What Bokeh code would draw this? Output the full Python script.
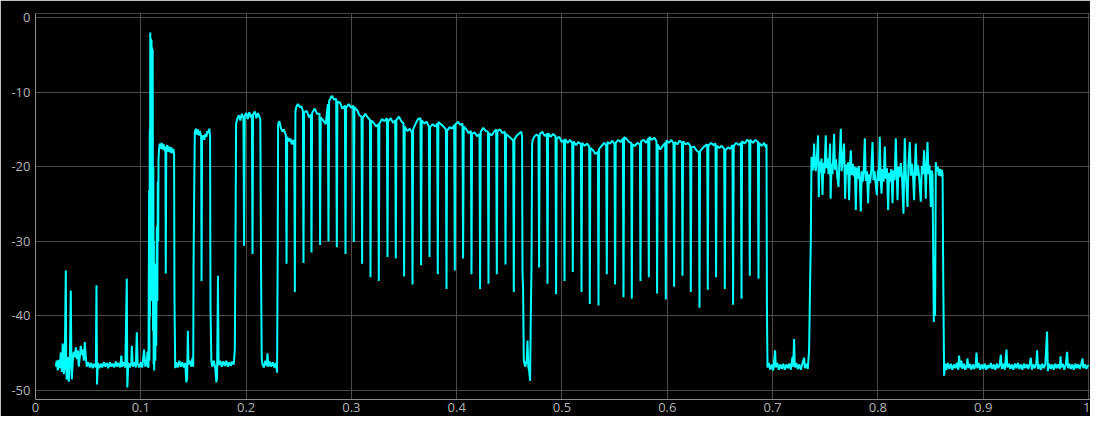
from bokeh.plotting import figure
from bokeh.models import Range1d, FixedTicker
from bokeh.embed import file_html
from bokeh.resources import INLINE

# ---------------- data ----------------
x_ticks = [0, 0.1, 0.2, 0.3, 0.4, 0.5, 0.6, 0.7, 0.8, 0.9, 1.0]
x_tick_labels = ["0", "0.1", "0.2", "0.3", "0.4", "0.5", "0.6", "0.7", "0.8", "0.9", "1"]
y_ticks = [0, -10, -20, -30, -40, -50]
y_tick_labels = ["0", "-10", "-20", "-30", "-40", "-50"]

# noisy start
t_start = [.0193, .0202, .0212, .0221, .0231, .0240, .0250, .0259, .0269, .0278, .0288, .0292, .0297,
           .0307, .0316, .0326, .0335, .0340, .0345, .0354, .0364, .0373, .0383, .0392, .0402, .0411,
           .0421, .0430, .0440, .0449, .0459, .0468, .0478, .0487]
v_start = [-46.8, -46.0, -47.3, -45.9, -47.0, -44.9, -47.5, -43.7, -47.8, -46.2, -33.9, -47.0, -48.5,
           -45.5, -48.8, -46.0, -36.6, -44.5, -48.5, -46.0, -44.8, -45.5, -44.2, -45.8, -44.6, -46.8,
           -45.5, -44.0, -45.2, -44.5, -46.0, -43.5, -45.5, -46.8]

# low floor before the burst
t_floor1 = [.0501, .0516, .0530, .0544, .0558, .0573, .0579, .0584, .0592, .0606, .0620, .0634, .0649,
            .0663, .0677, .0691, .0706, .0720, .0734, .0748, .0763, .0777, .0791, .0805, .0815, .0824,
            .0839, .0853, .0867, .0872, .0881, .0896, .0910, .0915, .0924, .0938, .0953, .0962, .0970,
            .0986, .1000, .1014, .1031, .1043, .1057, .1064, .1069]
v_floor1 = [-46.2, -46.9, -46.3, -47.0, -46.4, -46.9, -35.9, -49.2, -46.3, -47.0, -46.4, -46.9, -46.2,
            -46.8, -46.3, -47.0, -46.2, -46.8, -46.4, -46.9, -46.1, -46.8, -46.3, -46.9, -45.3, -46.8,
            -46.2, -46.9, -35.0, -49.6, -46.3, -46.9, -46.2, -44.0, -46.8, -46.2, -46.9, -42.2, -46.4,
            -46.9, -46.2, -46.9, -44.5, -46.8, -46.2, -44.8, -46.9]

# tall burst near 0.11
t_burst = [.1073, .1079, .1082, .1085, .1087, .1090, .1093, .1096, .1099, .1102, .1104, .1107, .1110,
           .1113, .1116, .1119, .1122, .1124, .1127, .1133, .1138, .1142, .1147, .1152, .1157, .1161,
           .1166, .1168, .1174]
v_burst = [-46.8, -23.2, -46.0, -15.0, -40.0, -2.0, -34.0, -2.8, -28.0, -3.0, -38.0, -4.0, -24.0,
           -4.3, -42.0, -20.0, -46.5, -30.0, -47.3, -40.0, -46.0, -33.0, -44.0, -28.0, -38.0, -22.0,
           -30.0, -19.1, -17.5]

# first plateau (-17)
t_pl1 = [.1180, .1190, .1199, .1209, .1218, .1228, .1234, .1237, .1242, .1252, .1261, .1271, .1280,
         .1290, .1299, .1309, .1316, .1320, .1327]
v_pl1 = [-16.9, -17.6, -16.8, -17.7, -17.0, -17.9, -17.3, -34.3, -17.6, -17.1, -18.0, -17.3, -18.1,
         -17.4, -18.2, -17.6, -18.3, -38.0, -47.0]

t_floor2 = [.1337, .1351, .1366, .1380, .1394, .1408, .1423, .1432, .1440, .1447, .1453, .1465, .1480,
            .1491, .1498]
v_floor2 = [-46.2, -46.9, -46.0, -46.8, -46.2, -46.9, -46.3, -48.9, -48.4, -42.0, -46.5, -46.0, -46.8,
            -45.6, -46.8]

# second plateau (-15.5)
t_pl2 = [.1501, .1506, .1513, .1522, .1532, .1542, .1551, .1561, .1573, .1577, .1582, .1594, .1603,
         .1613, .1623, .1632, .1642, .1651, .1658, .1662, .1670]
v_pl2 = [-33.0, -25.0, -15.4, -14.9, -15.7, -15.0, -15.8, -15.2, -15.9, -35.3, -16.2, -15.8, -16.4,
         -15.6, -16.0, -15.2, -15.5, -14.9, -16.0, -38.8, -46.0]

t_floor3 = [.1678, .1693, .1707, .1717, .1724, .1733, .1739, .1755, .1769, .1783, .1798, .1812, .1827,
            .1840, .1855, .1869, .1883, .1893]
v_floor3 = [-46.8, -46.0, -46.9, -48.9, -48.3, -34.6, -46.6, -46.0, -46.8, -46.1, -46.7, -46.0, -46.8,
            -46.2, -46.7, -46.1, -46.5, -44.5]

# third plateau (-13)
t_pl3 = [.1899, .1905, .1916, .1930, .1945, .1959, .1975, .1981, .1987, .2002, .2016, .2030, .2045,
         .2055, .2061, .2066, .2083, .2097, .2111, .2126, .2135, .2142, .2148, .2154]
v_pl3 = [-30.8, -14.2, -13.6, -13.1, -13.8, -12.9, -13.5, -30.6, -13.2, -12.8, -13.6, -12.7, -13.4,
         -13.0, -31.7, -13.0, -12.6, -13.5, -12.8, -13.3, -13.6, -33.6, -45.5, -46.4]

t_floor4 = [.2168, .2183, .2197, .2203, .2211, .2225, .2239, .2254, .2268, .2283, .2294, .2300]
v_floor4 = [-46.9, -46.0, -46.7, -45.0, -46.8, -46.1, -46.8, -46.2, -46.9, -46.3, -47.6, -31.4]

t_pl4 = [.2304, .2316, .2330, .2344, .2358, .2378, .2384, .2390, .2406, .2420, .2434, .2449, .2458,
         .2463]
v_pl4 = [-14.3, -13.9, -14.8, -15.3, -15.0, -15.8, -33.0, -16.0, -16.6, -16.2, -17.0, -16.4, -17.1,
         -36.8]

# long pulsed section 0.25 - 0.46
t_pulse1 = [.24682, .24767, .24910, .25100, .25242,
            .25394, .25451, .25508, .25755, .25983,
            .26154, .26211, .26268, .26515, .26743,
            .26971, .27028, .27085, .27331, .27559,
            .27768, .27825, .27882, .28129, .28357,
            .28557, .28614, .28670, .28917, .29145,
            .29383, .29440, .29497, .29744, .29972,
            .30171, .30228, .30285, .30532, .30760,
            .30959, .31016, .31073, .31320, .31548,
            .31757, .31814, .31871, .32118, .32346,
            .32545, .32602, .32659, .32906, .33134,
            .33371, .33428, .33485, .33732, .33960,
            .34160, .34217, .34274, .34520, .34748,
            .34948, .35005, .35062, .35309, .35537,
            .35746, .35803, .35859, .36106, .36334,
            .36562, .36619, .36676, .36923, .37151,
            .37360, .37417, .37474, .37721, .37949,
            .38148, .38205, .38262, .38509, .38737,
            .38974, .39031, .39088, .39335, .39563,
            .39763, .39820, .39877, .40123, .40351,
            .40551, .40608, .40665, .40912, .41140,
            .41349, .41406, .41462, .41709, .41937,
            .42165, .42222, .42279, .42526, .42754,
            .42963, .43020, .43077, .43324, .43552,
            .43751, .43808, .43865, .44112, .44340,
            .44577, .44634, .44691, .44938, .45166,
            .45366, .45423, .45480, .45726, .45954,
            .46135, .46211]
v_pulse1 = [-12.6, -12.0, -11.6, -12.0, -11.9,
            -12.5, -32.9, -12.7, -12.5, -13.4,
            -13.0, -31.5, -12.8, -12.2, -12.9,
            -12.9, -30.5, -13.4, -13.8, -14.3,
            -11.6, -30.0, -11.2, -10.5, -11.0,
            -10.9, -30.8, -11.3, -11.4, -12.2,
            -11.8, -31.7, -12.1, -11.6, -12.1,
            -11.8, -30.1, -12.0, -12.4, -13.1,
            -13.3, -33.0, -13.5, -12.9, -13.4,
            -13.7, -34.8, -13.8, -14.1, -14.6,
            -14.3, -35.3, -14.2, -13.6, -13.9,
            -13.5, -32.1, -13.9, -13.5, -14.1,
            -13.8, -32.3, -13.7, -13.3, -13.9,
            -14.2, -34.7, -14.6, -15.2, -14.9,
            -15.4, -35.8, -15.0, -14.2, -13.6,
            -13.5, -33.2, -13.8, -14.2, -14.0,
            -14.6, -32.1, -14.7, -14.3, -14.6,
            -14.2, -34.4, -14.0, -14.3, -14.6,
            -15.0, -36.4, -15.2, -14.7, -14.9,
            -14.4, -33.9, -14.3, -14.0, -14.4,
            -14.2, -32.3, -14.6, -15.0, -15.5,
            -15.2, -34.4, -15.6, -15.4, -15.9,
            -15.6, -36.4, -15.3, -14.8, -15.2,
            -15.3, -35.7, -15.5, -15.8, -15.3,
            -15.0, -34.4, -15.2, -15.0, -15.5,
            -15.3, -33.1, -15.6, -15.9, -16.2,
            -16.5, -36.8, -16.3, -15.8, -15.5,
            -15.3, -16.0]

t_gap1 = [.46249, .46306, .46372, .46515, .46657, .46724, .46800, .46895, .46971, .47037, .47103, .47160]
v_gap1 = [-34.0, -36.5, -46.0, -46.8, -45.8, -43.3, -46.8, -47.5, -48.7, -40.0, -33.5, -17.0]

# second pulsed section 0.47 - 0.69
t_pulse2 = [.47198, .47350, .47559,
            .47768, .47825, .47882, .48129, .48357,
            .48566, .48623, .48680, .48927, .49155,
            .49383, .49440, .49497, .49744, .49972,
            .50180, .50237, .50294, .50541, .50769,
            .50969, .51026, .51083, .51330, .51558,
            .51795, .51852, .51909, .52156, .52384,
            .52583, .52640, .52697, .52944, .53172,
            .53409, .53466, .53523, .53770, .53998,
            .54197, .54254, .54311, .54558, .54786,
            .54986, .55043, .55100, .55347, .55575,
            .55783, .55840, .55897, .56144, .56372,
            .56572, .56629, .56686, .56933, .57160,
            .57398, .57455, .57512, .57759, .57987,
            .58186, .58243, .58300, .58547, .58775,
            .58974, .59031, .59088, .59335, .59563,
            .59801, .59858, .59915, .60161, .60389,
            .60589, .60646, .60703, .60950, .61178,
            .61387, .61443, .61500, .61747, .61975,
            .62175, .62232, .62289, .62536, .62764,
            .63001, .63058, .63115, .63362, .63590,
            .63789, .63846, .63903, .64150, .64378,
            .64577, .64634, .64691, .64938, .65166,
            .65404, .65461, .65518, .65764, .65992,
            .66192, .66249, .66306, .66553, .66781,
            .66990, .67047, .67103, .67350, .67578,
            .67778, .67835, .67892, .68139, .68367,
            .68604, .68661, .68718, .68965, .69193,
            .69354, .69421, .69459, .69516]
v_pulse2 = [-16.5, -16.0, -15.7,
            -15.9, -33.5, -15.6, -15.3, -15.9,
            -15.6, -35.7, -15.5, -16.0, -15.6,
            -15.9, -37.1, -16.2, -16.0, -16.7,
            -16.4, -35.3, -16.3, -16.8, -16.4,
            -16.9, -34.1, -16.6, -17.1, -16.7,
            -17.0, -36.8, -16.8, -17.2, -16.9,
            -17.3, -38.4, -17.5, -17.8, -18.3,
            -18.0, -38.6, -17.6, -17.2, -16.8,
            -17.1, -34.4, -16.7, -16.9, -16.5,
            -17.0, -35.8, -16.8, -16.4, -16.7,
            -16.2, -37.5, -16.0, -16.3, -16.7,
            -16.8, -37.7, -17.0, -17.2, -16.8,
            -17.0, -35.3, -16.6, -16.4, -16.8,
            -16.2, -34.8, -16.0, -16.4, -16.1,
            -16.6, -37.0, -17.0, -17.7, -17.2,
            -16.8, -37.8, -16.5, -16.8, -16.4,
            -16.9, -36.1, -16.7, -17.0, -16.5,
            -16.8, -34.6, -16.6, -17.0, -16.8,
            -17.2, -36.8, -17.4, -17.3, -17.8,
            -18.1, -38.9, -17.9, -17.5, -17.2,
            -17.0, -36.5, -17.2, -16.8, -17.1,
            -16.9, -34.8, -17.2, -17.5, -17.2,
            -17.6, -36.4, -17.8, -17.4, -17.6,
            -17.1, -38.5, -17.2, -16.8, -17.1,
            -16.8, -37.7, -16.6, -16.9, -16.4,
            -16.6, -34.6, -16.4, -16.8, -16.4,
            -16.7, -35.0, -16.8, -17.2, -16.8,
            -17.4, -17.0, -38.4, -46.9]

t_floor5 = [.69639, .69782, .69924, .70066, .70237, .70304, .70446, .70589, .70731, .70874, .71016,
            .71159, .71301, .71444, .71586, .71728, .71890, .71956, .72042, .72108, .72251, .72393,
            .72536, .72678, .72821, .72992, .73058, .73201, .73343, .73467, .73561, .73628]
v_floor5 = [-46.3, -47.2, -46.5, -47.3, -44.6, -46.9, -46.3, -47.2, -46.5, -47.1, -46.4,
            -47.2, -46.5, -47.0, -46.4, -47.2, -45.5, -46.8, -43.1, -46.9, -46.3, -47.1,
            -46.5, -47.2, -46.4, -45.6, -47.0, -46.4, -47.1, -44.6, -35.7, -30.0]

# noisy block 0.74 - 0.86
t_noisy = [.73694, .73770, .73846, .73941, .74007, .74102, .74197, .74321, .74387, .74463, .74558,
           .74644, .74739, .74824, .74910, .75052, .75128, .75223, .75318, .75461, .75508, .75594,
           .75689, .75840, .75926, .76021, .76116, .76258, .76344, .76477, .76553, .76648, .76790,
           .76885, .76980, .77075, .77170, .77265, .77350, .77426, .77521, .77616, .77711, .77806,
           .77901, .77996, .78091, .78186, .78281, .78376, .78471, .78566, .78661, .78756, .78851,
           .78965, .79069, .79164, .79259, .79373, .79487, .79582, .79677, .79782, .79896, .79991,
           .80085, .80180, .80256, .80342, .80437, .80541, .80655, .80750, .80864, .80969, .81064,
           .81159, .81273, .81387, .81481, .81586, .81700, .81776, .81861, .81956, .82061, .82175,
           .82289, .82431, .82498, .82555, .82650, .82811, .82906, .83029, .83124, .83238, .83343,
           .83438, .83523, .83599, .83694, .83808, .83913, .84074, .84169, .84283, .84387, .84473,
           .84549, .84625, .84710, .84805, .84900, .85024, .85100, .85185, .85242, .85308, .85365,
           .85432, .85499, .85594, .85689, .85784, .85879, .85974, .86068, .86144, .86201, .86287,
           .86382]
v_noisy = [-18.7, -19.0, -20.5, -16.9, -19.2, -20.6, -18.8, -15.8, -24.1, -19.3, -20.8,
           -18.9, -23.8, -19.5, -20.9, -15.8, -20.2, -18.9, -21.0, -16.9, -24.3, -19.6,
           -21.0, -15.6, -20.4, -19.0, -20.9, -22.7, -19.3, -14.9, -20.6, -19.2, -16.9,
           -24.3, -19.7, -21.0, -19.4, -24.5, -19.8, -17.8, -21.1, -19.6, -21.3, -20.0,
           -25.8, -20.1, -21.6, -19.9, -21.8, -26.0, -20.6, -22.0, -20.4, -16.2, -21.9,
           -20.6, -24.9, -21.0, -22.2, -20.4, -16.7, -21.8, -20.6, -22.1, -23.8, -20.5,
           -21.9, -16.0, -21.4, -23.6, -20.3, -22.0, -17.3, -21.6, -20.2, -25.8, -20.8,
           -22.0, -20.3, -24.9, -20.5, -21.8, -16.2, -20.2, -24.5, -20.0, -21.4, -19.5,
           -21.3, -26.3, -20.0, -16.2, -21.0, -25.4, -19.7, -16.7, -21.2, -19.6, -21.4,
           -24.5, -20.0, -16.9, -21.2, -19.8, -21.3, -24.7, -19.9, -21.0, -17.8, -20.6,
           -24.3, -20.0, -16.7, -21.0, -19.8, -25.4, -20.5, -21.0, -30.0, -40.8, -32.0,
           -40.0, -19.4, -20.6, -20.0, -21.2, -20.3, -21.3, -20.4, -21.0, -34.0, -48.0,
           -46.4]

# final floor
t_floor6 = [.86496, .86638, .86781, .86923, .87066, .87208, .87350, .87493, .87635, .87711, .87797,
            .87920, .88015, .88158, .88300, .88443, .88509, .88585, .88727, .88870, .89012, .89155,
            .89297, .89364, .89440, .89582, .89725, .89867, .90009, .90152, .90294, .90437, .90579,
            .90722, .90864, .91007, .91149, .91292, .91434, .91576, .91671, .91766, .91909, .92051,
            .92213, .92289, .92431, .92574, .92716, .92859, .93001, .93143, .93286, .93428, .93571,
            .93713, .93856, .93998, .94140, .94283, .94425, .94520, .94615, .94758, .94900, .95043,
            .95119, .95204, .95347, .95470, .95613, .95755, .95897, .96068, .96135, .96277, .96420,
            .96562, .96705, .96847, .96989, .97132, .97274, .97341, .97417, .97559, .97702, .97844,
            .97968, .98053, .98177, .98319, .98462, .98604, .98746, .98889, .99031, .99174, .99316,
            .99430, .99506, .99649, .99791, .99934, 1.0]
v_floor6 = [-47.2, -46.3, -47.1, -46.4, -47.2, -46.5, -47.0, -46.3, -47.2, -45.3, -46.9,
            -46.0, -47.1, -46.4, -47.2, -46.5, -45.7, -47.0, -46.4, -47.2, -46.5, -47.1,
            -46.4, -44.9, -47.0, -46.3, -47.2, -46.5, -47.1, -46.4, -47.2, -46.6, -47.0,
            -46.3, -47.1, -46.5, -47.2, -46.4, -47.0, -46.5, -45.2, -47.1, -46.4, -47.2,
            -44.5, -46.9, -46.4, -47.1, -46.5, -47.2, -46.4, -47.0, -46.3, -47.1, -46.5,
            -47.2, -46.4, -47.0, -46.5, -47.1, -46.4, -45.6, -47.2, -46.5, -47.0, -46.4,
            -44.6, -47.1, -46.5, -47.2, -46.4, -47.0, -46.5, -42.1, -47.4, -46.4, -47.1,
            -46.5, -47.2, -46.4, -47.0, -46.5, -47.1, -45.4, -46.9, -46.4, -47.2, -46.5,
            -44.8, -47.0, -46.4, -47.1, -46.5, -47.2, -46.4, -47.0, -46.5, -47.1, -46.4,
            -45.7, -47.0, -46.5, -47.1, -46.6, -46.8]

segments_t = [t_start, t_floor1, t_burst, t_pl1, t_floor2, t_pl2, t_floor3, t_pl3, t_floor4, t_pl4,
              t_pulse1, t_gap1, t_pulse2, t_floor5, t_noisy, t_floor6]
segments_v = [v_start, v_floor1, v_burst, v_pl1, v_floor2, v_pl2, v_floor3, v_pl3, v_floor4, v_pl4,
              v_pulse1, v_gap1, v_pulse2, v_floor5, v_noisy, v_floor6]

xs, ys = [], []
for t, v in zip(segments_t, segments_v):
    assert len(t) == len(v), (len(t), len(v))
    xs.extend(t)
    ys.extend(v)

# ---------------- figure ----------------
p = figure(width=1090, height=416, output_backend="svg", toolbar_location=None,
           x_range=Range1d(0, 1.0019), y_range=Range1d(-51.2, 0.54),
           background_fill_color="#000000", border_fill_color="#000000",
           min_border_left=35, min_border_right=0, min_border_top=13, min_border_bottom=17)
p.outline_line_color = None

p.line(xs, ys, line_color="#00ffff", line_width=2.0)

for ax in (p.xaxis[0], p.yaxis[0]):
    ax.axis_line_color = "#8f8f8f"
    ax.axis_line_width = 1
    ax.major_tick_line_color = None
    ax.minor_tick_line_color = None
    ax.major_tick_in = 0
    ax.major_tick_out = 0
    ax.major_label_text_color = "#b4b4b4"
    ax.major_label_text_font = "Open Sans"
    ax.major_label_text_font_size = "13px"

p.xaxis[0].ticker = FixedTicker(ticks=x_ticks)
p.xaxis[0].major_label_overrides = {t: s for t, s in zip(x_ticks, x_tick_labels)}
p.xaxis[0].major_label_standoff = 3
p.yaxis[0].ticker = FixedTicker(ticks=y_ticks)
p.yaxis[0].major_label_overrides = {t: s for t, s in zip(y_ticks, y_tick_labels)}
p.yaxis[0].major_label_standoff = 5

p.xgrid.grid_line_color = "#4b4b4b"
p.ygrid.grid_line_color = "#4b4b4b"
p.xgrid.grid_line_width = 1
p.ygrid.grid_line_width = 1

open("out.html", "w").write(file_html(p, INLINE))
